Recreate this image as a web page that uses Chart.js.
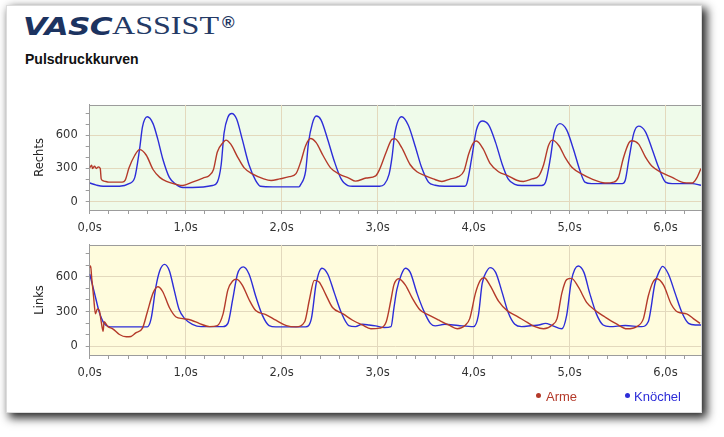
<!DOCTYPE html>
<html>
<head>
<meta charset="utf-8">
<script src="https://cdn.jsdelivr.net/npm/chart.js@4.4.1/dist/chart.umd.min.js"></script>
<style>
  html, body { margin: 0; padding: 0; background: #fff; width: 724px; height: 437px; overflow: hidden; }
  #card { position: absolute; left: 6px; top: 5px; width: 694px; height: 406px; background: #fff;
          border: 1px solid #dcdcdc; box-shadow: 4px 4px 9px 1px rgba(0,0,0,0.85); }
  .abs { position: absolute; white-space: nowrap; line-height: 1; }
  #vasc { left: 23px; top: 12px; font: italic bold 24.5px "DejaVu Sans"; color: #1c3360; transform-origin: 0 0; letter-spacing: -0.5px; }
  #assist { left: 112px; top: 12px; font: 25px "Liberation Serif"; color: #243a66; transform-origin: 0 0; }
  #reg { left: 222px; top: 13px; font: bold 17px "Liberation Sans"; color: #1c3360; }
  #subtitle { left: 25px; top: 51px; font: bold 14px "Liberation Sans"; color: #111; }
  canvas { position: absolute; left: 0; }
  #top-chart { top: 90px; }
  #bottom-chart { top: 230px; }
  .legend { font: 13px "Liberation Sans"; top: 388.5px; }
  .dot { position: absolute; width: 5px; height: 5px; border-radius: 50%; top: 392.5px; }
</style>
</head>
<body>
<div id="card"></div>
<div class="abs" id="vasc">VASC</div>
<div class="abs" id="assist">ASSIST</div>
<div class="abs" id="reg">®</div>
<div class="abs" id="subtitle">Pulsdruckkurven</div>
<canvas id="top-chart" width="712" height="150"></canvas>
<canvas id="bottom-chart" width="712" height="160"></canvas>
<div class="dot" style="left:536px;background:#b43a2a"></div>
<div class="abs legend" style="left:546px;color:#b43a2a">Arme</div>
<div class="dot" style="left:625px;background:#2d2dd8"></div>
<div class="abs legend" style="left:634px;color:#2d2dd8">Knöchel</div>
<script>
const seriesNames = ['Arme', 'Knöchel'];
const panelTitles = ['Rechts', 'Links'];
const yMajorTicks = [0, 300, 600];

// Rechts - Arme
const rightArmT = [0.00, 0.02, 0.03, 0.05, 0.07, 0.09, 0.11, 0.12, 0.15, 0.20, 0.27, 0.34, 0.37, 0.41, 0.47, 0.52, 0.59, 0.66, 0.73, 0.80, 0.90, 0.97, 1.07, 1.18, 1.25, 1.29, 1.33, 1.39, 1.42, 1.47, 1.54, 1.61, 1.70, 1.80, 1.89, 1.98, 2.08, 2.15, 2.20, 2.25, 2.30, 2.36, 2.43, 2.51, 2.60, 2.70, 2.77, 2.88, 2.98, 3.02, 3.09, 3.15, 3.18, 3.25, 3.34, 3.41, 3.50, 3.58, 3.67, 3.76, 3.84, 3.90, 3.95, 4.00, 4.03, 4.10, 4.17, 4.26, 4.36, 4.45, 4.52, 4.61, 4.68, 4.73, 4.78, 4.82, 4.89, 4.96, 5.03, 5.13, 5.23, 5.37, 5.46, 5.51, 5.56, 5.62, 5.65, 5.72, 5.79, 5.86, 5.96, 6.07, 6.17, 6.28, 6.32, 6.37];
const rightArmP = [306, 330, 300, 320, 300, 315, 300, 206, 186, 177, 177, 177, 195, 306, 420, 471, 420, 291, 220, 183, 157, 146, 177, 214, 240, 291, 449, 534, 557, 520, 406, 306, 249, 211, 191, 206, 226, 254, 363, 506, 571, 534, 420, 306, 249, 214, 186, 214, 234, 291, 449, 563, 569, 491, 334, 271, 234, 206, 183, 206, 226, 277, 434, 534, 549, 477, 349, 271, 234, 194, 183, 206, 234, 334, 506, 557, 506, 391, 306, 249, 206, 169, 177, 220, 391, 534, 551, 520, 406, 320, 263, 220, 177, 169, 206, 300];

// Rechts - Knöchel
const rightAnkleT = [0.00, 0.07, 0.14, 0.31, 0.41, 0.47, 0.52, 0.55, 0.60, 0.66, 0.71, 0.76, 0.83, 0.90, 0.97, 1.07, 1.28, 1.33, 1.37, 1.40, 1.44, 1.48, 1.53, 1.59, 1.66, 1.73, 1.78, 1.91, 2.18, 2.20, 2.25, 2.28, 2.32, 2.36, 2.41, 2.48, 2.55, 2.62, 2.69, 2.74, 3.02, 3.07, 3.12, 3.15, 3.18, 3.25, 3.32, 3.39, 3.46, 3.53, 3.60, 3.70, 3.91, 3.93, 3.98, 4.03, 4.09, 4.16, 4.23, 4.30, 4.36, 4.43, 4.50, 4.71, 4.75, 4.80, 4.84, 4.90, 4.97, 5.04, 5.11, 5.16, 5.23, 5.55, 5.58, 5.62, 5.67, 5.72, 5.79, 5.86, 5.93, 6.00, 6.07, 6.28, 6.37];
const rightAnkleP = [169, 150, 140, 140, 163, 220, 477, 677, 768, 706, 563, 391, 220, 157, 129, 129, 146, 177, 334, 620, 763, 797, 749, 563, 334, 191, 140, 134, 134, 157, 277, 534, 706, 774, 740, 563, 363, 206, 146, 140, 140, 157, 249, 400, 620, 768, 691, 506, 306, 177, 149, 140, 140, 163, 391, 649, 729, 691, 534, 334, 206, 157, 146, 146, 177, 391, 620, 706, 649, 477, 277, 177, 163, 163, 191, 391, 620, 683, 634, 477, 306, 177, 163, 163, 149];

// Links - Arme
const leftArmT = [0.00, 0.01, 0.02, 0.04, 0.06, 0.08, 0.10, 0.12, 0.14, 0.15, 0.19, 0.24, 0.31, 0.38, 0.43, 0.48, 0.55, 0.60, 0.66, 0.71, 0.76, 0.83, 0.90, 0.97, 1.06, 1.14, 1.25, 1.33, 1.39, 1.44, 1.49, 1.53, 1.59, 1.66, 1.73, 1.84, 1.94, 2.05, 2.15, 2.24, 2.29, 2.34, 2.39, 2.46, 2.53, 2.64, 2.74, 2.84, 2.93, 3.02, 3.09, 3.14, 3.17, 3.22, 3.29, 3.36, 3.44, 3.53, 3.64, 3.74, 3.83, 3.91, 3.96, 4.02, 4.07, 4.11, 4.17, 4.26, 4.35, 4.45, 4.56, 4.64, 4.73, 4.82, 4.87, 4.92, 4.97, 5.02, 5.09, 5.18, 5.27, 5.37, 5.48, 5.60, 5.70, 5.77, 5.82, 5.87, 5.91, 5.98, 6.06, 6.13, 6.22, 6.29, 6.36];
const leftArmP = [679, 693, 597, 432, 280, 322, 308, 212, 129, 212, 170, 151, 102, 82, 85, 116, 157, 294, 459, 514, 473, 335, 253, 239, 225, 198, 170, 179, 280, 487, 564, 578, 528, 404, 308, 272, 225, 179, 168, 212, 404, 569, 555, 446, 335, 280, 225, 184, 151, 157, 212, 404, 530, 583, 528, 418, 316, 272, 225, 184, 151, 179, 239, 459, 569, 591, 528, 390, 308, 261, 206, 170, 151, 184, 239, 459, 575, 586, 514, 377, 308, 253, 198, 151, 170, 239, 432, 555, 583, 528, 363, 294, 280, 239, 198];

// Links - Knöchel
const leftAnkleT = [0.00, 0.05, 0.10, 0.15, 0.20, 0.24, 0.60, 0.64, 0.69, 0.73, 0.78, 0.83, 0.88, 0.93, 0.99, 1.07, 1.16, 1.39, 1.44, 1.49, 1.54, 1.60, 1.66, 1.73, 1.80, 1.87, 1.94, 2.25, 2.31, 2.36, 2.42, 2.48, 2.55, 2.62, 2.70, 2.77, 2.84, 2.91, 2.98, 3.07, 3.14, 3.17, 3.20, 3.25, 3.29, 3.34, 3.41, 3.48, 3.55, 3.60, 3.70, 3.84, 4.00, 4.05, 4.09, 4.14, 4.17, 4.23, 4.30, 4.36, 4.43, 4.50, 4.61, 4.68, 4.75, 4.82, 4.92, 4.97, 5.02, 5.09, 5.15, 5.21, 5.28, 5.35, 5.42, 5.58, 5.75, 5.82, 5.89, 5.93, 5.97, 6.03, 6.10, 6.17, 6.24, 6.31, 6.37];
const leftAnkleP = [624, 459, 294, 198, 170, 168, 168, 239, 514, 652, 707, 652, 487, 322, 239, 190, 170, 170, 198, 404, 624, 685, 624, 432, 267, 179, 168, 168, 239, 542, 674, 624, 459, 294, 179, 170, 190, 184, 176, 162, 170, 330, 487, 624, 674, 638, 459, 308, 198, 176, 190, 179, 170, 267, 542, 652, 679, 638, 459, 294, 190, 170, 179, 184, 198, 179, 151, 267, 569, 693, 638, 459, 280, 184, 170, 179, 170, 212, 542, 638, 690, 624, 459, 294, 198, 184, 184];

const xMax = 6.37;
const yMin = -75;
const yMax = 875;
const armColor = '#b43a2a';
const ankleColor = '#2d2dd8';
const gridColor = '#e3d9bd';
const axisColor = '#9c9c9c';
const tickFont = { family: 'DejaVu Sans', size: 11.5 };

// stretch the logo words to the widths they have in the original
const fitWidth = (id, w) => {
  const el = document.getElementById(id);
  el.style.transform = `scaleX(${w / el.getBoundingClientRect().width})`;
};
fitWidth('vasc', 89);
fitWidth('assist', 107);

const onStep = (v, step) => Math.abs(v / step - Math.round(v / step)) < 1e-6;

const toPoints = (ts, ps) => ts.map((t, i) => ({ x: t, y: ps[i] }));

const plotBackground = {
  id: 'plotBackground',
  beforeDraw(chart, args, opts) {
    const { ctx, chartArea: a } = chart;
    ctx.save();
    ctx.fillStyle = opts.color;
    ctx.fillRect(a.left, a.top, a.right - a.left, a.bottom - a.top);
    ctx.strokeStyle = axisColor;
    ctx.lineWidth = 1;
    ctx.beginPath();
    ctx.moveTo(a.left, Math.round(a.top) + 0.5);
    ctx.lineTo(a.right, Math.round(a.top) + 0.5);
    ctx.stroke();
    ctx.restore();
  },
};

const makePanel = (canvasId, title, bg, armT, armP, ankleT, ankleP, xHeight) =>
  new Chart(document.getElementById(canvasId), {
    type: 'line',
    data: {
      datasets: [
        { label: seriesNames[0], data: toPoints(armT, armP), borderColor: armColor },
        { label: seriesNames[1], data: toPoints(ankleT, ankleP), borderColor: ankleColor },
      ],
    },
    options: {
      responsive: false,
      animation: false,
      layout: { padding: { left: 29, top: 9, right: 11, bottom: 0 } },
      elements: {
        point: { radius: 0 },
        line: { borderWidth: 1.4, cubicInterpolationMode: 'monotone' },
      },
      plugins: {
        legend: { display: false },
        tooltip: { enabled: false },
        plotBackground: { color: bg },
      },
      scales: {
        x: {
          type: 'linear',
          min: 0,
          max: xMax,
          afterBuildTicks: (s) => { s.ticks = s.ticks.filter((t) => onStep(t.value, 0.2)); },
          afterFit: (s) => { s.height = xHeight; },
          ticks: {
            stepSize: 0.2,
            includeBounds: false,
            autoSkip: false,
            maxRotation: 0,
            padding: 7,
            color: '#333',
            font: tickFont,
            callback: (v) => (onStep(v, 1) ? v.toFixed(1).replace('.', ',') + 's' : ''),
          },
          grid: {
            color: (c) => (c.tick && onStep(c.tick.value, 1) ? gridColor : 'rgba(0,0,0,0)'),
            tickColor: axisColor,
            tickLength: 4,
          },
          border: { color: axisColor },
        },
        y: {
          min: yMin,
          max: yMax,
          afterBuildTicks: (s) => { s.ticks = s.ticks.filter((t) => onStep(t.value, 100)); },
          afterFit: (s) => { s.width = 60.7; },
          ticks: {
            stepSize: 100,
            includeBounds: false,
            autoSkip: false,
            padding: 8,
            color: '#333',
            font: tickFont,
            callback: (v) => (yMajorTicks.includes(v) ? String(v) : ''),
          },
          grid: {
            color: (c) => (c.tick && yMajorTicks.includes(c.tick.value) ? gridColor : 'rgba(0,0,0,0)'),
            tickColor: axisColor,
            tickLength: 4,
          },
          border: { color: axisColor },
          title: { display: true, text: title, color: '#222', font: tickFont, padding: { top: 4, bottom: 0 } },
        },
      },
    },
    plugins: [plotBackground],
  });

makePanel('top-chart', panelTitles[0], '#effbea', rightArmT, rightArmP, rightAnkleT, rightAnkleP, 30);
makePanel('bottom-chart', panelTitles[1], '#fffcdd', leftArmT, leftArmP, leftAnkleT, leftAnkleP, 35);
</script>
</body>
</html>
